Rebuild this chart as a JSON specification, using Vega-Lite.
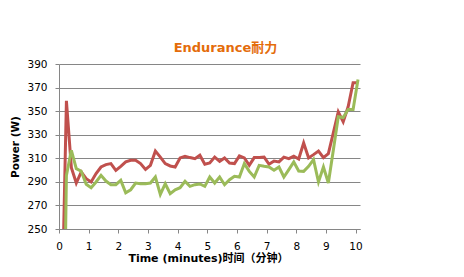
{
  "$schema": "https://vega.github.io/schema/vega-lite/v6.json",
  "width": 301,
  "height": 165,
  "autosize": {"type": "none"},
  "padding": {"left": 59, "top": 64, "right": 104, "bottom": 48},
  "background": "white",
  "title": {
    "text": "Endurance耐力",
    "color": "#E46C0A",
    "font": "DejaVu Sans, Noto Sans CJK SC",
    "fontSize": 13,
    "fontWeight": "bold",
    "anchor": "middle",
    "dx": 16,
    "offset": 4
  },
  "data": {
    "values": [
      {"t": 0.083, "red": 160, "green": 0},
      {"t": 0.25, "red": 358.8, "green": 295.5},
      {"t": 0.417, "red": 302, "green": 316.8},
      {"t": 0.583, "red": 289, "green": 301.2},
      {"t": 0.75, "red": 298.4, "green": 299},
      {"t": 0.917, "red": 292.7, "green": 287.9},
      {"t": 1.083, "red": 289.9, "green": 285},
      {"t": 1.25, "red": 297, "green": 289.9},
      {"t": 1.417, "red": 302.6, "green": 295.5},
      {"t": 1.583, "red": 304.6, "green": 290.7},
      {"t": 1.75, "red": 305.5, "green": 287.6},
      {"t": 1.917, "red": 299.8, "green": 287.6},
      {"t": 2.083, "red": 303.2, "green": 291.3},
      {"t": 2.25, "red": 306.9, "green": 280.8},
      {"t": 2.417, "red": 308.3, "green": 283.3},
      {"t": 2.583, "red": 308.3, "green": 289},
      {"t": 2.75, "red": 305.5, "green": 288.4},
      {"t": 2.917, "red": 300.6, "green": 288.4},
      {"t": 3.083, "red": 304, "green": 289},
      {"t": 3.25, "red": 316.2, "green": 294.1},
      {"t": 3.417, "red": 311, "green": 279.4},
      {"t": 3.583, "red": 305.5, "green": 288.4},
      {"t": 3.75, "red": 303.5, "green": 280},
      {"t": 3.917, "red": 302.6, "green": 283.3},
      {"t": 4.083, "red": 310.3, "green": 285},
      {"t": 4.25, "red": 311.7, "green": 290.4},
      {"t": 4.417, "red": 310.6, "green": 286.2},
      {"t": 4.583, "red": 309.7, "green": 287.6},
      {"t": 4.75, "red": 312.6, "green": 288.2},
      {"t": 4.917, "red": 304.9, "green": 286.2},
      {"t": 5.083, "red": 306, "green": 294.1},
      {"t": 5.25, "red": 311, "green": 289},
      {"t": 5.417, "red": 307.4, "green": 294.1},
      {"t": 5.583, "red": 310.3, "green": 287.6},
      {"t": 5.75, "red": 306, "green": 291.8},
      {"t": 5.917, "red": 305.5, "green": 294.7},
      {"t": 6.083, "red": 312, "green": 294.1},
      {"t": 6.25, "red": 310.3, "green": 305.5},
      {"t": 6.417, "red": 304, "green": 298.9},
      {"t": 6.583, "red": 310.6, "green": 294.1},
      {"t": 6.75, "red": 310.6, "green": 304},
      {"t": 6.917, "red": 311, "green": 303.2},
      {"t": 7.083, "red": 304.9, "green": 302.6},
      {"t": 7.25, "red": 307.7, "green": 299.8},
      {"t": 7.417, "red": 306.9, "green": 302.6},
      {"t": 7.583, "red": 311, "green": 294.1},
      {"t": 7.75, "red": 309.7, "green": 300.4},
      {"t": 7.917, "red": 311.7, "green": 306.9},
      {"t": 8.083, "red": 309.4, "green": 299.2},
      {"t": 8.25, "red": 323, "green": 298.9},
      {"t": 8.417, "red": 310.3, "green": 303.2},
      {"t": 8.583, "red": 313.1, "green": 308.9},
      {"t": 8.75, "red": 316.2, "green": 289.9},
      {"t": 8.917, "red": 310.6, "green": 302.6},
      {"t": 9.083, "red": 314, "green": 289},
      {"t": 9.25, "red": 331.6, "green": 316.8},
      {"t": 9.417, "red": 349.4, "green": 345.2},
      {"t": 9.583, "red": 341, "green": 344.6},
      {"t": 9.75, "red": 353.7, "green": 351.4},
      {"t": 9.917, "red": 374.1, "green": 351.4},
      {"t": 10.083, "red": 374.1, "green": 376.9}
    ]
  },
  "transform": [{"fold": ["red", "green"], "as": ["series", "power"]}],
  "mark": {"type": "line", "strokeWidth": 3, "clip": true},
  "encoding": {
    "x": {
      "field": "t",
      "type": "quantitative",
      "scale": {"domain": [0, 10.15], "nice": false, "zero": false},
      "axis": {
        "values": [0, 1, 2, 3, 4, 5, 6, 7, 8, 9, 10],
        "grid": false,
        "title": "Time (minutes)时间（分钟）",
        "titleFontSize": 11,
        "labelFlush": false,
        "tickSize": 4,
        "labelPadding": 8,
        "titlePadding": 1,
        "titleX": 149
      }
    },
    "y": {
      "field": "power",
      "type": "quantitative",
      "scale": {"domain": [250, 390], "nice": false, "zero": false},
      "axis": {
        "values": [250, 270, 290, 310, 330, 350, 370, 390],
        "grid": true,
        "title": "Power (W)",
        "titleFontSize": 10.5,
        "tickSize": 4,
        "labelPadding": 8,
        "titlePadding": 6
      }
    },
    "color": {
      "field": "series",
      "type": "nominal",
      "scale": {"domain": ["red", "green"], "range": ["#C0504D", "#9BBB59"]},
      "legend": null
    },
    "order": {"field": "t", "type": "quantitative"}
  },
  "config": {
    "view": {"stroke": null},
    "font": "DejaVu Sans, Noto Sans CJK SC",
    "axis": {
      "labelFont": "DejaVu Sans",
      "labelFontSize": 10.5,
      "labelColor": "#000000",
      "titleFont": "DejaVu Sans, Noto Sans CJK SC",
      "titleFontSize": 10,
      "titleFontWeight": "bold",
      "titleColor": "#000000",
      "domainColor": "#868686",
      "tickColor": "#868686",
      "gridColor": "#868686",
      "gridOpacity": 1,
      "domainWidth": 1,
      "gridWidth": 1
    }
  }
}
